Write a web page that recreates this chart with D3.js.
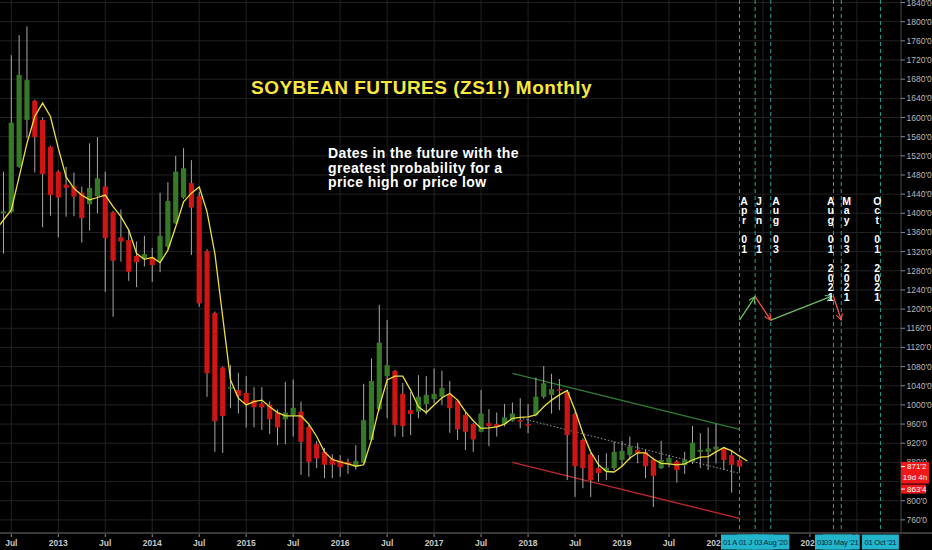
<!DOCTYPE html>
<html><head><meta charset="utf-8">
<script src="https://cdn.jsdelivr.net/npm/d3@7"></script>
<style>html,body{margin:0;padding:0;background:#000;overflow:hidden}svg{display:block}</style>
</head><body><svg id="c" width="932" height="550"></svg>
<script>
// ---- data ----
const firstMonth = 5; // months since Jan 2012 -> Jun 2012
const open = [1400,1403,1497,1595,1635,1595,1539,1487,1460,1456,1443,1419,1436,1456,1402,1350,1344,1311,1306,1308,1301,1330,1379,1433,1463,1436,1321,1192,1078,1035,1031,1025,1010,1003,1000,984,970,979,986,954,918,902,888,884,881,872,879,927,991,1060,1071,1023,989,986,1002,1012,1017,1023,1009,979,960,944,962,960,960,967,968,960,979,1017,1021,1033,1027,981,927,897,868,862,868,885,895,906,902,886,868,878,882,874,881,902,902,907,909,895,885];
const high = [1487,1730,1772,1790,1637,1600,1541,1490,1497,1485,1456,1546,1559,1487,1405,1408,1365,1341,1353,1328,1443,1465,1520,1536,1511,1445,1325,1195,1080,1083,1067,1060,1037,1037,1007,990,1048,1053,1007,958,925,910,897,895,888,916,1044,1097,1209,1177,1073,1046,1027,1062,1060,1076,1071,1050,1012,985,962,1031,991,984,1002,1005,1014,1002,1057,1081,1065,1054,1031,985,930,900,895,899,923,925,934,921,906,890,925,895,885,902,956,941,953,960,912,906,887];
const low = [1316,1400,1495,1557,1485,1371,1395,1350,1393,1394,1339,1364,1400,1236,1184,1299,1259,1246,1289,1257,1277,1325,1378,1430,1313,1205,1017,902,900,993,982,953,953,948,939,916,918,934,854,850,868,847,847,850,856,865,877,925,988,972,934,933,937,972,980,1003,1000,942,927,906,902,943,914,934,955,965,951,941,976,1013,982,989,843,808,826,808,840,843,864,871,885,878,847,787,866,870,838,856,877,868,864,878,864,817,863.5];
const close = [1404,1589,1689,1678,1559,1482,1438,1433,1453,1435,1390,1453,1473,1348,1301,1341,1278,1298,1315,1292,1353,1426,1487,1494,1412,1212,1066,966,977,1037,1019,1002,995,995,970,953,984,994,923,881,888,875,875,870,875,883,968,1050,1130,1083,958,956,981,1017,1021,1023,1035,993,949,944,928,982,956,954,974,982,965,958,1017,1045,1033,1030,937,872,868,843,858,869,902,904,913,899,872,852,885,889,864,885,921,906,909,913,885,875,871.25];
const maFirstMonth = 4;
const maValues = [1365,1386,1407,1476,1546,1602,1630,1602,1536,1476,1452,1438,1428,1433,1438,1414,1393,1365,1316,1304,1308,1297,1323,1372,1424,1442,1455,1403,1316,1184,1052,1014,1000,1007,1010,996,984,977,977,977,960,934,902,886,881,877,872,875,927,996,1052,1060,1060,1031,996,984,1000,1015,1024,1010,986,967,951,952,954,960,972,974,975,979,996,1010,1021,1030,989,941,902,875,861,860,872,889,900,900,887,878,877,875,877,885,891,892,902,911,904,893,883];
const priceTicks = d3.range(760, 1841, 40);
const timeTicks = d3.range(6, 115, 6); // Jul 2012 .. Jul 2021
const trendLines = [
  {m1: 70, p1: 1066, m2: 99, p2: 949, kind: "upper"},
  {m1: 70, p1: 880, m2: 99, p2: 763, kind: "lower"},
  {m1: 70.9, p1: 973, m2: 99, p2: 857, kind: "mid"}
];
const eventMonths = [99, 101, 103, 111, 112, 117];
const eventText = ["Apr 01", "Jun 01", "Aug 03", "Aug 01 2021", "May 03 2021", "Oct 01 2021"];
const eventTextMonth = [99.6, 101.5, 103.66, 110.65, 112.7, 116.6];
const eventTags = ["01 Apr '20", "01 Jun '20", "03 Aug '20", "01 Aug '21", "03 May '21", "01 Oct '21"];
const arrows = [
  {m1: 99, p1: 1177, m2: 101, p2: 1226, dir: "up"},
  {m1: 101, p1: 1226, m2: 103, p2: 1177, dir: "down"},
  {m1: 103, p1: 1177, m2: 110.8, p2: 1227, dir: "up"},
  {m1: 111, p1: 1227, m2: 112, p2: 1177, dir: "down"}
];
const lastPrice = 871.25, lastPriceLabel = "871'2", countdown = "19d 4h", lowPriceLabel = "863'4";
const titleText = "SOYBEAN FUTURES (ZS1!) Monthly";
const noteLines = ["Dates in the future with the", "greatest probability for a", "price high or price low"];

// ---- layout ----
const W = 932, H = 550, plotR = 901, plotB = 533;
const svg = d3.select("#c");
const font = "'Liberation Sans', Arial, sans-serif";
const x = d3.scaleLinear().domain([4.5568, 119.63]).range([0, plotR]);
const y = d3.scaleLinear().domain([732.6, 1845.3]).range([plotB, 0]);

svg.append("rect").attr("width", W).attr("height", H).attr("fill", "#000");

// grid
const grid = svg.append("g");
grid.selectAll(".hg").data(priceTicks).join("line")
  .attr("x1", 0).attr("x2", plotR).attr("y1", d => y(d)).attr("y2", d => y(d))
  .attr("stroke", "#222").attr("stroke-width", 1);
grid.selectAll(".vg").data(timeTicks).join("line")
  .attr("x1", d => x(d)).attr("x2", d => x(d)).attr("y1", 0).attr("y2", plotB)
  .attr("stroke", "#222").attr("stroke-width", 1);

// title & note
svg.append("text").attr("x", 251).attr("y", 94)
  .attr("font-family", font).attr("font-weight", "bold").attr("font-size", 19)
  .attr("letter-spacing", 0.5).attr("fill", "#f8e83c").text(titleText);
svg.append("g").selectAll("text").data(noteLines).join("text")
  .attr("x", 328).attr("y", (d, i) => 158.3 + i * 14.4)
  .attr("font-family", font).attr("font-weight", "bold").attr("font-size", 14)
  .attr("letter-spacing", 0.4).attr("fill", "#fff").text(d => d);

// event dashed lines
svg.append("g").selectAll("line").data(eventMonths).join("line")
  .attr("x1", d => x(d)).attr("x2", d => x(d)).attr("y1", 0).attr("y2", plotB)
  .attr("stroke", "#26a69a").attr("stroke-width", 1).attr("stroke-dasharray", "4,3");

// trend lines
const tlColor = {upper: "#2e7d32", lower: "#c62828", mid: "#9a9a9a"};
svg.append("g").selectAll("line").data(trendLines).join("line")
  .attr("x1", d => x(d.m1)).attr("y1", d => y(d.p1)).attr("x2", d => x(d.m2)).attr("y2", d => y(d.p2))
  .attr("stroke", d => tlColor[d.kind]).attr("stroke-width", d => d.kind === "mid" ? 1 : 1.3)
  .attr("stroke-dasharray", d => d.kind === "mid" ? "1.5,2" : null);

// candles
const candles = open.map((o, i) => ({m: firstMonth + i, o, h: high[i], l: low[i], c: close[i]}));
const bw = (x(1) - x(0)) * 0.66;
const cg = svg.append("g");
cg.selectAll("line").data(candles).join("line")
  .attr("x1", d => x(d.m)).attr("x2", d => x(d.m)).attr("y1", d => y(d.h)).attr("y2", d => y(d.l))
  .attr("stroke", "#a8a8a8").attr("stroke-width", 1);
cg.selectAll("rect").data(candles).join("rect")
  .attr("x", d => x(d.m) - bw / 2).attr("width", bw)
  .attr("y", d => y(Math.max(d.o, d.c)))
  .attr("height", d => Math.max(1.5, Math.abs(y(d.o) - y(d.c))))
  .attr("fill", d => d.c >= d.o ? "#367a27" : "#d01515");

// moving average
const ma = maValues.map((v, i) => ({m: maFirstMonth + i, v}));
svg.append("path").datum(ma)
  .attr("d", d3.line().x(d => x(d.m)).y(d => y(d.v)))
  .attr("fill", "none").attr("stroke", "#ebe13c").attr("stroke-width", 1.3);

// arrows
const defs = svg.append("defs");
const arrowColor = {up: "#6cbf5e", down: "#f0544a"};
Object.entries(arrowColor).forEach(([k, col]) => {
  defs.append("marker").attr("id", "ah-" + k).attr("viewBox", "0 0 10 10")
    .attr("refX", 9).attr("refY", 5).attr("markerWidth", 8).attr("markerHeight", 8)
    .attr("markerUnits", "userSpaceOnUse").attr("orient", "auto")
    .append("path").attr("d", "M1,1 L9,5 L1,9").attr("fill", "none")
    .attr("stroke", col).attr("stroke-width", 1.4);
});
svg.append("g").selectAll("line").data(arrows).join("line")
  .attr("x1", d => x(d.m1)).attr("y1", d => y(d.p1)).attr("x2", d => x(d.m2)).attr("y2", d => y(d.p2))
  .attr("stroke", d => arrowColor[d.dir]).attr("stroke-width", 1.3)
  .attr("marker-end", d => `url(#ah-${d.dir})`);

// vertical stacked date text (one text element per column, one tspan per character)
const vt = svg.append("g");
eventText.forEach((t, i) => {
  const cx = x(eventTextMonth[i]);
  const tx = vt.append("text").attr("x", cx).attr("y", 204.5)
    .attr("text-anchor", "middle").attr("font-family", font).attr("font-weight", "bold")
    .attr("font-size", 10.5).attr("fill", "#fff");
  t.split("").forEach((ch, j) => {
    tx.append("tspan").attr("x", cx).attr("dy", j === 0 ? 0 : 9.65).text(ch === " " ? "\u00a0" : ch);
  });
});

// axes lines
svg.append("line").attr("x1", plotR).attr("x2", plotR).attr("y1", 0).attr("y2", plotB)
  .attr("stroke", "#4a4a4a");
svg.append("line").attr("x1", 0).attr("x2", W).attr("y1", plotB).attr("y2", plotB)
  .attr("stroke", "#3a3a3a").attr("stroke-width", 2);

// price label geometry (right scale)
const ly = y(lastPrice);
const boxA = {top: ly - 4.5, bottom: ly + 17};
const boxB = {top: ly + 18, bottom: ly + 27};

// right axis (labels fully hidden behind the price labels are skipped)
const visibleTicks = priceTicks.filter(d => !(y(d) - 3 > boxA.top && y(d) + 3 < boxB.bottom));
const ra = svg.append("g");
ra.selectAll("line").data(priceTicks).join("line")
  .attr("x1", plotR).attr("x2", plotR + 4).attr("y1", d => y(d)).attr("y2", d => y(d))
  .attr("stroke", "#888");
ra.selectAll("text").data(visibleTicks).join("text")
  .attr("x", plotR + 5.5).attr("y", d => y(d) + 3)
  .attr("font-family", font).attr("font-size", 8.5).attr("fill", "#b8b8b8")
  .text(d => `${d}'0`);

// event tag geometry on time axis (later tags drawn over earlier ones)
const tagW = 37;
const tagBoxes = eventMonths.map((m, i) => ({m, cx: x(m), left: x(m) - tagW / 2, right: x(m) + tagW / 2, label: eventTags[i]}));
function coveredFrom(left, right) {
  let cut = Infinity;
  tagBoxes.forEach(b => { if (b.right > left && b.left < right) cut = Math.min(cut, b.left); });
  return cut;
}
function fitText(sel, maxRight, slack) {
  const node = sel.node();
  let s = sel.text();
  while (s.length > 0) {
    const bb = node.getBBox();
    if (bb.x + bb.width <= maxRight + slack) break;
    s = s.slice(0, -1).replace(/\s+$/, ""); sel.text(s);
  }
  if (s.trim().length === 0) sel.remove();
}

// bottom axis
const ba = svg.append("g");
ba.selectAll("line").data(timeTicks).join("line")
  .attr("x1", d => x(d)).attr("x2", d => x(d)).attr("y1", plotB + 1).attr("y2", plotB + 4)
  .attr("stroke", "#888");
timeTicks.forEach(d => {
  const t = ba.append("text").attr("x", x(d)).attr("y", 546).attr("text-anchor", "middle")
    .attr("font-family", font).attr("font-size", 8.5).attr("font-weight", "bold").attr("fill", "#c8c8c8")
    .text(d % 12 === 0 ? String(2012 + d / 12) : "Jul");
  const bb = t.node().getBBox();
  const cut = coveredFrom(bb.x, bb.x + bb.width);
  if (cut <= bb.x + 2) { t.remove(); return; }
  if (cut < Infinity) { t.attr("text-anchor", "start").attr("x", bb.x); fitText(t, cut, 1); }
});

// event tags
const tg = svg.append("g");
tagBoxes.forEach(b => {
  tg.append("rect").attr("x", b.left).attr("y", 534.5).attr("width", tagW).attr("height", 15)
    .attr("fill", "#22b5cb");
});
tagBoxes.forEach((b, i) => {
  const next = tagBoxes.slice(i + 1).filter(o => o.left < b.right && o.right > b.left);
  const t = tg.append("text").attr("y", 545)
    .attr("font-family", font).attr("font-size", 7.6).attr("letter-spacing", -0.25)
    .attr("fill", "#0c2a44").text(b.label);
  if (!next.length) {
    t.attr("x", b.cx).attr("text-anchor", "middle");
  } else {
    t.attr("x", b.left + 2);
    fitText(t, Math.min(...next.map(o => o.left)), 2.5);
  }
});

// price labels
const pl = svg.append("g");
pl.append("rect").attr("x", plotR).attr("y", boxA.top).attr("width", 28).attr("height", boxA.bottom - boxA.top).attr("fill", "#f01818");
pl.append("text").attr("x", plotR + 6).attr("y", ly + 2.8).attr("font-family", font).attr("font-size", 8)
  .attr("fill", "#fff").text(lastPriceLabel);
pl.append("text").attr("x", plotR + 14).attr("y", ly + 13.3).attr("text-anchor", "middle").attr("font-family", font)
  .attr("font-size", 8).attr("fill", "#fff").text(countdown);
pl.append("rect").attr("x", plotR).attr("y", boxB.top).attr("width", 25).attr("height", boxB.bottom - boxB.top).attr("fill", "#f01818");
pl.append("text").attr("x", plotR + 6).attr("y", ly + 25.3).attr("font-family", font).attr("font-size", 8)
  .attr("fill", "#fff").text(lowPriceLabel);
pl.selectAll("line").data([ly, ly + 22.5]).join("line")
  .attr("x1", plotR).attr("x2", plotR + 4).attr("y1", d => d).attr("y2", d => d).attr("stroke", "#fff");
</script></body></html>
